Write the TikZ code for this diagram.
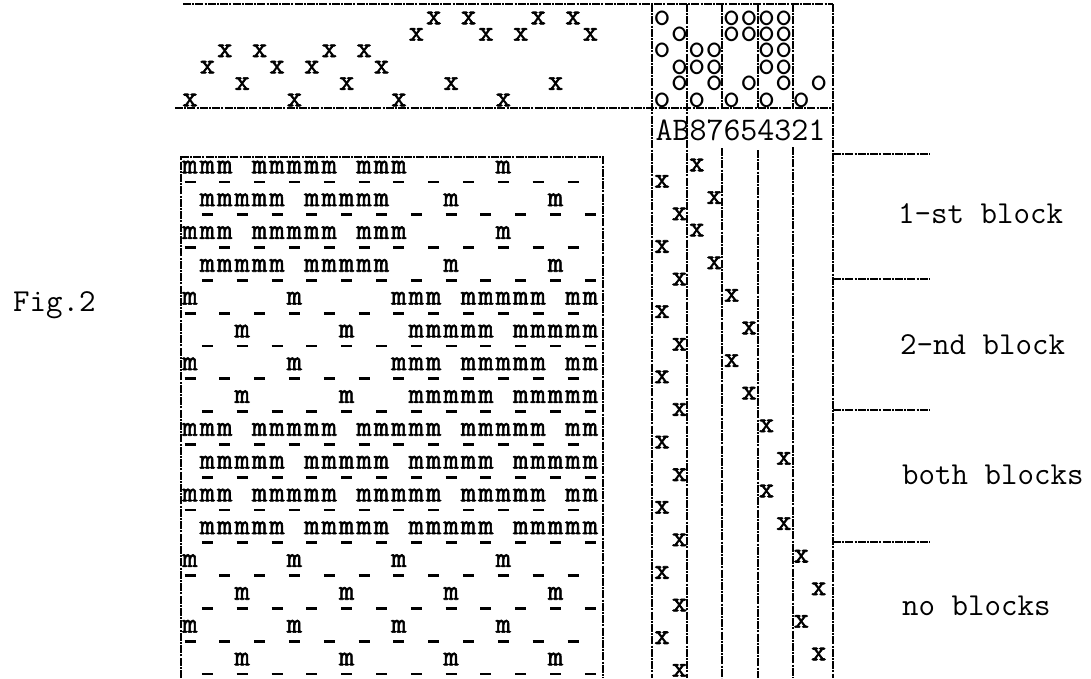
\documentclass[tikz,border=0pt]{standalone}
\font\twfont="[lmmono10-regular]:embolden=2" at 29pt
\font\holefont="[lmmono10-regular]" at 33pt
\tikzset{
  tw/.style={inner sep=0pt, font=\twfont},
  hole/.style={inner sep=0pt, font=\holefont},
  head/.style={inner sep=0pt, font=\fontsize{33}{33}\selectfont\ttfamily},
  lbl/.style={inner sep=0pt, anchor=west, font=\fontsize{32}{32}\selectfont\ttfamily},
  tline/.style={line width=1.2pt, dash pattern=on 8pt off 1.2pt on 2pt off 1.2pt},
  bar/.style={line width=2.8pt},
}

\begin{document}
\begin{tikzpicture}[x=1pt, y=-1pt]
  \useasboundingbox (0,0) rectangle (1091,678);

  % ---- top field: x marks ----
  \foreach \r/\y/\cols in {0/18/{14,16,20,22}, 1/34.4/{13,17,19,23},
                           2/50.8/{2,4,8,10}, 3/67.2/{1,5,7,11},
                           4/83.6/{3,9,15,21}, 5/100/{0,6,12,18}}
    \foreach \c in \cols
      \node[tw] (t\r-\c) at ({190+17.41*\c},\y) {x};

  % ---- hole field: o marks ----
  \foreach \r/\y/\cols in {0/18/{0,4,5,6,7}, 1/34.4/{1,4,5,6,7},
                           2/50.8/{0,2,3,6,7}, 3/67.2/{1,2,3,6,7},
                           4/83.6/{1,3,5,7,9}, 5/100/{0,2,4,6,8}}
    \foreach \c in \cols
      \node[hole] (o\r-\c) at ({662+17.41*\c},\y) {o};

  % ---- frame ----
  \draw[tline] (183,4) -- (833,4);
  \draw[tline] (175,108) -- (833,108);
  \draw[tline] (181,678) -- (181,157) -- (603,157) -- (603,678);
  \draw[tline] (652,4) -- (652,678);
  \draw[tline] (687,4) -- (687,678);
  \foreach \vx/\vy in {722/148, 758/150, 793/147}{
    \draw[tline] (\vx,4) -- (\vx,108);
    \draw[tline] (\vx,\vy) -- (\vx,678);
  }
  \draw[tline] (833,4) -- (833,678);

  % ---- column heads ----
  \node[head] (hdr) at (740.5,130) {AB87654321};

  % ---- m rows ----
  \foreach \k/\cols in {
      1/{0,1,2,4,5,6,7,8,10,11,12,18},
      2/{1,2,3,4,5,7,8,9,10,11,15,21},
      3/{0,1,2,4,5,6,7,8,10,11,12,18},
      4/{1,2,3,4,5,7,8,9,10,11,15,21},
      5/{0,6,12,13,14,16,17,18,19,20,22,23},
      6/{3,9,13,14,15,16,17,19,20,21,22,23},
      7/{0,6,12,13,14,16,17,18,19,20,22,23},
      8/{3,9,13,14,15,16,17,19,20,21,22,23},
      9/{0,1,2,4,5,6,7,8,10,11,12,13,14,16,17,18,19,20,22,23},
      10/{1,2,3,4,5,7,8,9,10,11,13,14,15,16,17,19,20,21,22,23},
      11/{0,1,2,4,5,6,7,8,10,11,12,13,14,16,17,18,19,20,22,23},
      12/{1,2,3,4,5,7,8,9,10,11,13,14,15,16,17,19,20,21,22,23},
      13/{0,6,12,18}, 14/{3,9,15,21}, 15/{0,6,12,18}, 16/{3,9,15,21}}
    \foreach \c in \cols
      \node[tw] (m\k-\c) at ({190+17.41*\c},{167+32.8*(\k-1)}) {m};

  % ---- dash rows ----
  \foreach \k in {1,...,16}{
    \pgfmathtruncatemacro\s{mod(\k+1,2)}
    \foreach \i in {0,...,11}
      \draw[bar] ({184.5+17.41*(\s+2*\i)},{182+32.8*(\k-1)}) -- +(11,0);
  }

  % ---- x marks in the columns ----
  \foreach \j/\c in {0/2, 1/0, 2/3, 3/1, 4/2, 5/0, 6/3, 7/1,
                     8/4, 9/0, 10/5, 11/1, 12/4, 13/0, 14/5, 15/1,
                     16/6, 17/0, 18/7, 19/1, 20/6, 21/0, 22/7, 23/1,
                     24/8, 25/0, 26/9, 27/1, 28/8, 29/0, 30/9, 31/1}
    \node[tw] (c\j) at ({662+17.41*\c},{165+16.3*\j}) {x};

  % ---- block marks ----
  \foreach \sy in {154, 279, 410, 542}
    \draw[tline] (833,\sy) -- (930,\sy);
  \node[lbl] (b1) at (898,214) {1-st block};
  \node[lbl] (b2) at (900,345) {2-nd block};
  \node[lbl] (b3) at (902,475) {both blocks};
  \node[lbl] (b4) at (902,606) {no blocks};

  \node[lbl] (fig) at (13,305) {Fig.2};
\end{tikzpicture}
\end{document}
